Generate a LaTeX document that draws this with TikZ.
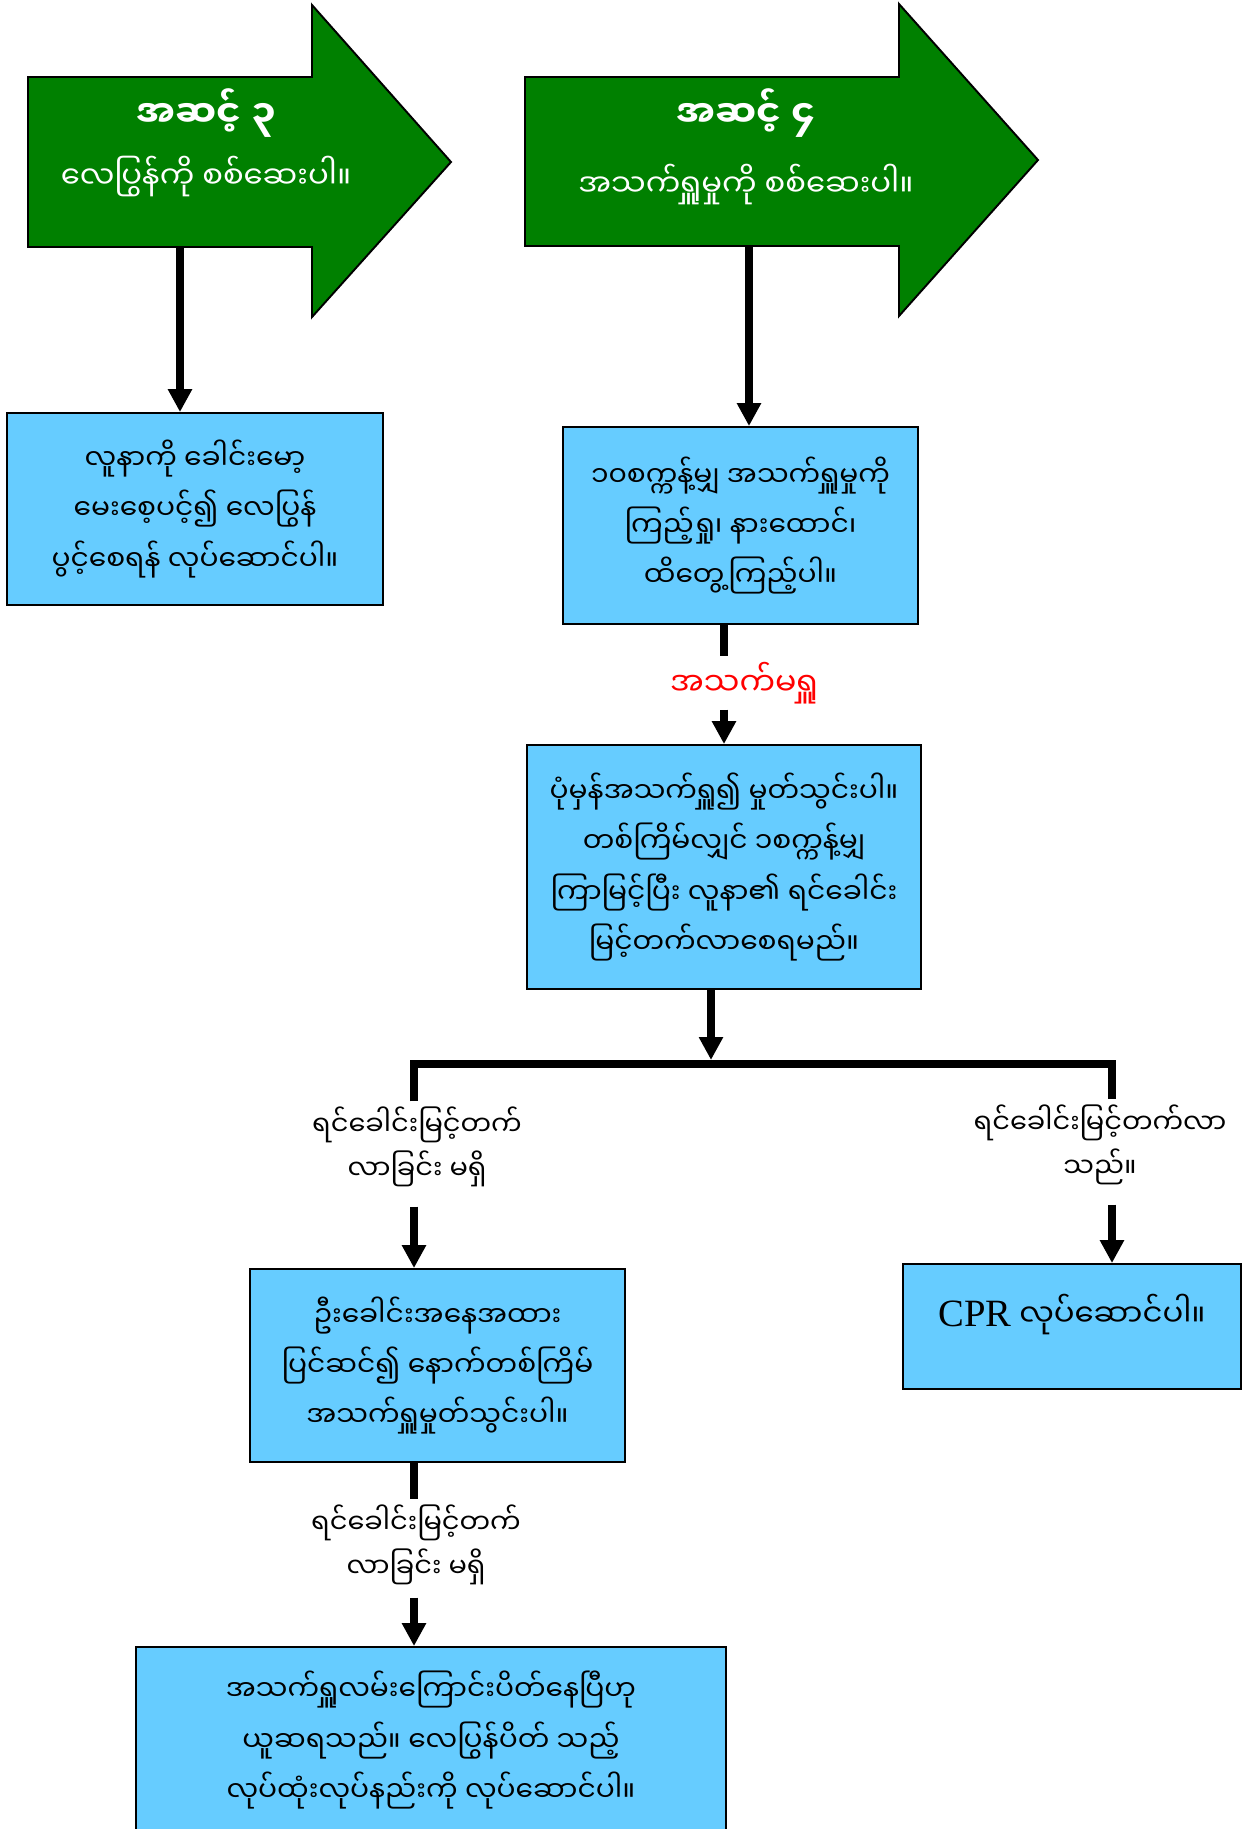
\documentclass[tikz,border=0pt]{standalone}
\usepackage{fontspec}
\setmainfont{Liberation Serif}
\newfontfamily\myan[Script=Myanmar]{Noto Sans Myanmar UI}
\usepackage{tikz}
\usetikzlibrary{arrows.meta,positioning,calc}
\definecolor{stepgreen}{RGB}{0,128,0}
\definecolor{boxblue}{RGB}{102,204,255}
\definecolor{noteRed}{RGB}{255,0,0}

\begin{document}
\begin{tikzpicture}[x=0.02cm,y=-0.02cm,
  >={Triangle[length=13pt,width=13pt]},
  stepbox/.style={rectangle,draw=black,line width=1.1pt,fill=boxblue,
                  inner sep=0pt,align=center,
                  font=\myan\fontsize{16}{28.5}\selectfont},
  arrowbody/.style={draw=black,line width=1.1pt,fill=stepgreen},
  headline/.style={text=white,anchor=base,
                   font=\myan\bfseries\fontsize{21}{24}\selectfont},
  subline/.style={text=white,anchor=base,
                  font=\myan\fontsize{17.5}{20}\selectfont},
  note/.style={inner sep=3pt,align=center,
               font=\myan\fontsize{15.5}{25}\selectfont},
  conn/.style={line width=4.55pt},
]
\useasboundingbox (0,0) rectangle (1245,1829);
\clip (0,0) rectangle (1245,1829);

% Step 3 arrow
\draw[arrowbody] (28,77) -- (312,77) -- (312,5) -- (451,162)
    -- (312,317) -- (312,247) -- (28,247) -- cycle;
\node[headline] (t3) at (206,127) {အဆင့် ၃};
\node[subline] (s3) at (206,188) {လေပြွန်ကို စစ်ဆေးပါ။};
\coordinate (out3) at (180,247);

% Step 4 arrow
\draw[arrowbody] (525,77) -- (899,77) -- (899,4) -- (1038,160)
    -- (899,316) -- (899,246) -- (525,246) -- cycle;
\node[headline] (t4) at (746,127) {အဆင့် ၄};
\node[subline] (s4) at (746,196) {အသက်ရှူမှုကို စစ်ဆေးပါ။};
\coordinate (out4) at (749,246);

% Boxes
\node[stepbox,minimum width=7.52cm,minimum height=3.84cm] (airway) at (195,509)
  {လူနာကို ခေါင်းမော့\\မေးစေ့ပင့်၍ လေပြွန်\\ပွင့်စေရန် လုပ်ဆောင်ပါ။};
\node[stepbox,minimum width=7.10cm,minimum height=3.94cm] (look) at (740.5,525.5)
  {၁၀စက္ကန့်မျှ အသက်ရှူမှုကို\\ကြည့်ရှု၊ နားထောင်၊\\ထိတွေ့ကြည့်ပါ။};
\node[stepbox,minimum width=7.88cm,minimum height=4.88cm] (rescue) at (724,867)
  {ပုံမှန်အသက်ရှူ၍ မှုတ်သွင်းပါ။\\တစ်ကြိမ်လျှင် ၁စက္ကန့်မျှ\\ကြာမြင့်ပြီး လူနာ၏ ရင်ခေါင်း\\မြင့်တက်လာစေရမည်။};
\node[stepbox,minimum width=7.50cm,minimum height=3.86cm] (retry) at (437.5,1365.5)
  {ဦးခေါင်းအနေအထား\\ပြင်ဆင်၍ နောက်တစ်ကြိမ်\\အသက်ရှူမှုတ်သွင်းပါ။};
\node[stepbox,minimum width=6.76cm,minimum height=2.50cm,
      label={[yshift=0.24cm,font=\myan\fontsize{17.5}{28}\selectfont]center:{\fontsize{22}{28}\selectfont\rmfamily CPR} လုပ်ဆောင်ပါ။}]
      (cpr) at (1072,1326.5) {};
\node[stepbox,minimum width=11.82cm,minimum height=3.72cm] (blocked) at (431,1740)
  {အသက်ရှူလမ်းကြောင်းပိတ်နေပြီဟု\\ယူဆရသည်။ လေပြွန်ပိတ် သည့်\\လုပ်ထုံးလုပ်နည်းကို လုပ်ဆောင်ပါ။};

% Labels on the connectors
\node[note,text=noteRed,font=\myan\fontsize{18}{22}\selectfont] (nobreath) at (744,683) {အသက်မရှူ};
\node[note] (norise1) at (417,1147) {ရင်ခေါင်းမြင့်တက်\\လာခြင်း မရှိ};
\node[note] (rises) at (1100,1145) {ရင်ခေါင်းမြင့်တက်လာ\\သည်။};
\node[note] (norise2) at (416,1545) {ရင်ခေါင်းမြင့်တက်\\လာခြင်း မရှိ};

% Connectors
\coordinate (split) at (711,1064);
\coordinate (barL) at (414,1064);
\coordinate (barR) at (1112,1064);
\draw[conn,->] (out3) -- (out3 |- airway.north);
\draw[conn,->] (out4) -- (out4 |- look.north);
\draw[conn] (look.south -| rescue.north) -- (nobreath.north -| rescue.north);
\draw[conn,->] (nobreath.south -| rescue.north) -- (rescue.north);
\draw[conn,->,shorten >=2.3pt] (split |- rescue.south) -- (split);
\draw[conn] (norise1.north -| barL) |- (split) -| (rises.north -| barR);
\draw[conn,->,shorten <=8pt] (norise1.south -| barL) -- (barL |- retry.north);
\draw[conn,->,shorten <=8pt] (rises.south -| barR) -- (barR |- cpr.north);
\draw[conn] (retry.south -| barL) -- (norise2.north -| barL);
\draw[conn,->,shorten <=4pt] (norise2.south -| barL) -- (barL |- blocked.north);
\end{tikzpicture}
\end{document}
